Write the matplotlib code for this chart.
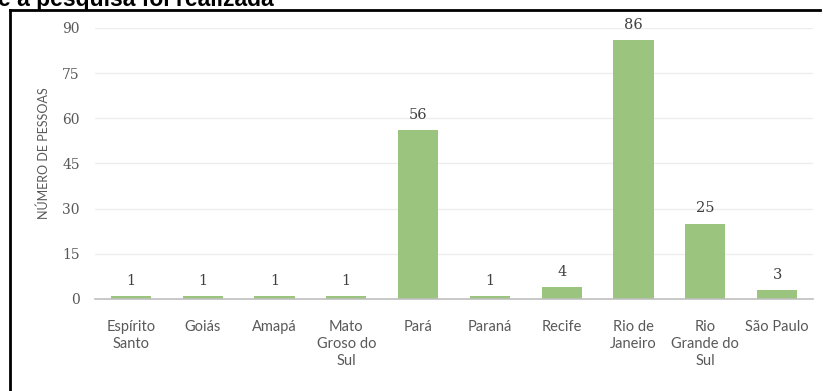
import numpy as np
import matplotlib.pyplot as plt
from matplotlib.lines import Line2D

estados = ["Espírito\nSanto", "Goiás", "Amapá", "Mato\nGroso do\nSul", "Pará",
           "Paraná", "Recife", "Rio de\nJaneiro", "Rio\nGrande do\nSul", "São Paulo"]
pessoas = [1, 1, 1, 1, 56, 1, 4, 86, 25, 3]
yticks = [0, 15, 30, 45, 60, 75, 90]

W, H = 823, 391
fig = plt.figure(figsize=(W / 100, H / 100), dpi=100)
ax = fig.add_axes([95 / W, (H - 299) / H, (813 - 95) / W, (299 - 28) / H])

x = np.arange(len(estados))
ax.bar(x, pessoas, width=0.56, color="#9BC57E", zorder=3)
for xi, v in zip(x, pessoas):
    ax.annotate(str(v), (xi, v), xytext=(0, 6), textcoords="offset points",
                ha="center", va="bottom", fontsize=10.5, color="#404040",
                family="DejaVu Serif", annotation_clip=False)

ax.set_xlim(-0.5, len(estados) - 0.5)
ax.set_ylim(0, 90)
ax.set_yticks(yticks)
ax.set_yticklabels([str(t) for t in yticks], family="DejaVu Serif",
                   fontsize=10, color="#595959")
ax.set_xticks(x)
ax.set_xticklabels(estados, family="Lato", fontsize=10.5, color="#595959",
                   linespacing=1.28, va="top")
ax.tick_params(axis="both", length=0)
ax.tick_params(axis="y", pad=11)
ax.tick_params(axis="x", pad=15)
ax.grid(axis="y", color="#EDEDED", linewidth=1, zorder=0)
for s in ["top", "right", "left"]:
    ax.spines[s].set_visible(False)
ax.spines["bottom"].set_color("#BFBFBF")
ax.spines["bottom"].set_linewidth(1.2)
ax.spines["bottom"].set_zorder(4)

ax.set_ylabel("NÚMERO DE PESSOAS", family="Lato", fontsize=9, color="#595959")
ax.yaxis.set_label_coords((50 - 95) / (813 - 95), 0.537)

# moldura e título cortado no topo
fig.add_artist(Line2D([10 / W, 10 / W], [0, 1 - 10 / H], transform=fig.transFigure,
                      color="black", linewidth=2))
fig.add_artist(Line2D([10 / W, 820 / W], [1 - 10 / H, 1 - 10 / H],
                      transform=fig.transFigure, color="black", linewidth=2))
fig.text(-2 / W, 1 - 6 / H, "e a pesquisa foi realizada", family="Liberation Sans",
         fontweight="bold", fontsize=16.5, va="baseline", ha="left", color="black")

fig.savefig("out.png", dpi=100)
